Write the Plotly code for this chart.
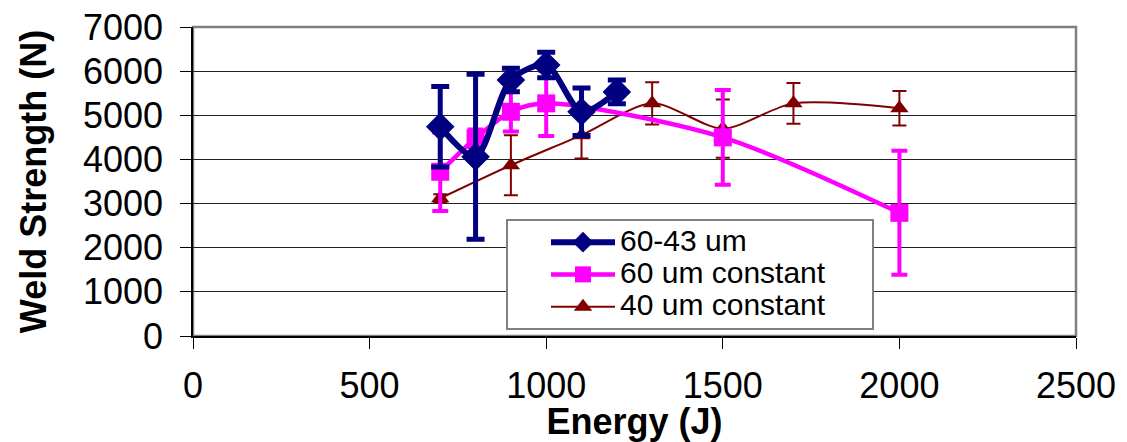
import plotly.graph_objects as go

# ---- data ----
energy_a = [700, 800, 900, 1000, 1100, 1200]
strength_a = [4740, 4060, 5800, 6140, 5080, 5530]
err_a = [910, 1870, 265, 290, 540, 270]

energy_b = [700, 800, 900, 1000, 1500, 2000]
strength_b = [3720, 4480, 5080, 5270, 4500, 2790]
err_b = [890, 200, 450, 740, 1075, 1405]

energy_c = [700, 900, 1100, 1300, 1500, 1700, 2000]
strength_c = [3120, 3870, 4550, 5270, 4700, 5270, 5160]
err_c = [90, 680, 530, 480, 660, 460, 390]

names = ["60-43 um", "60 um constant", "40 um constant"]
x_ticks = [0, 500, 1000, 1500, 2000, 2500]
y_ticks = [0, 1000, 2000, 3000, 4000, 5000, 6000, 7000]

FONT = "Liberation Sans, Arial, sans-serif"
NAVY = "#000080"
MAG = "#FF00FF"
DRED = "#800000"


def big(t):
    return '<span style="font-size:30px">' + t + '\u00a0' * 5 + '</span>'


fig = go.Figure()

fig.add_trace(go.Scatter(
    x=energy_c, y=strength_c, name=big(names[2]), mode="lines+markers",
    line=dict(color=DRED, width=2, shape="spline", smoothing=0.8),
    marker=dict(symbol="triangle-up", size=16, color=DRED),
    error_y=dict(type="data", array=err_c, color=DRED, thickness=2, width=7),
))
fig.add_trace(go.Scatter(
    x=energy_b, y=strength_b, name=big(names[1]), mode="lines+markers",
    line=dict(color=MAG, width=4.5, shape="spline", smoothing=0.8),
    marker=dict(symbol="square", size=18, color=MAG),
    error_y=dict(type="data", array=err_b, color=MAG, thickness=4, width=8),
))
fig.add_trace(go.Scatter(
    x=energy_a, y=strength_a, name=big(names[0]), mode="lines+markers",
    line=dict(color=NAVY, width=6, shape="spline", smoothing=0.8),
    marker=dict(symbol="diamond", size=22, color=NAVY),
    error_y=dict(type="data", array=err_a, color=NAVY, thickness=5, width=9),
))

# plot-area border (gray top/right)
fig.add_shape(type="rect", xref="paper", yref="paper", x0=0, y0=0, x1=1, y1=1,
              line=dict(color="#808080", width=2.5), layer="below")

# the page body has an 8px margin, so the figure is offset by 8px
fig.update_layout(
    width=1119, height=434,
    margin=dict(l=185, r=51, t=19, b=106, autoexpand=False),
    paper_bgcolor="white", plot_bgcolor="white",
    font=dict(family=FONT, color="black", size=36),
    showlegend=True,
    legend=dict(
        x=(506 - 193) / 883, y=(336 - 274.5) / 309, xanchor="left", yanchor="middle",
        bgcolor="white", bordercolor="#808080", borderwidth=2,
        font=dict(family=FONT, size=22.5, color="black"),
        traceorder="reversed", itemwidth=64, indentation=38,
        tracegroupgap=0,
    ),
    xaxis=dict(
        range=[0, 2500], tickvals=x_ticks, ticktext=[str(v) for v in x_ticks],
        showgrid=False, zeroline=False, automargin=False,
        showline=True, linecolor="black", linewidth=1.5,
        ticks="outside", ticklen=11, tickcolor="black", tickwidth=1,
        ticklabelstandoff=6, ticklabeloverflow="allow",
        tickfont=dict(family=FONT, size=36, color="black"),
        title=dict(text="Energy (J)", standoff=0,
                   font=dict(family=FONT, size=36, color="black", weight="bold")),
    ),
    yaxis=dict(
        range=[0, 7000], tickvals=y_ticks, ticktext=[str(v) for v in y_ticks],
        showgrid=True, gridcolor="#202020", gridwidth=1, zeroline=False,
        automargin=False,
        showline=True, linecolor="black", linewidth=1.5,
        ticks="outside", ticklen=11, tickcolor="black", tickwidth=1,
        ticklabelstandoff=10, ticklabeloverflow="allow",
        tickfont=dict(family=FONT, size=36, color="black"),
        title=dict(text="Weld Strength (N)", standoff=25,
                   font=dict(family=FONT, size=36, color="black", weight="bold")),
    ),
)

fig.write_html("out.html")
